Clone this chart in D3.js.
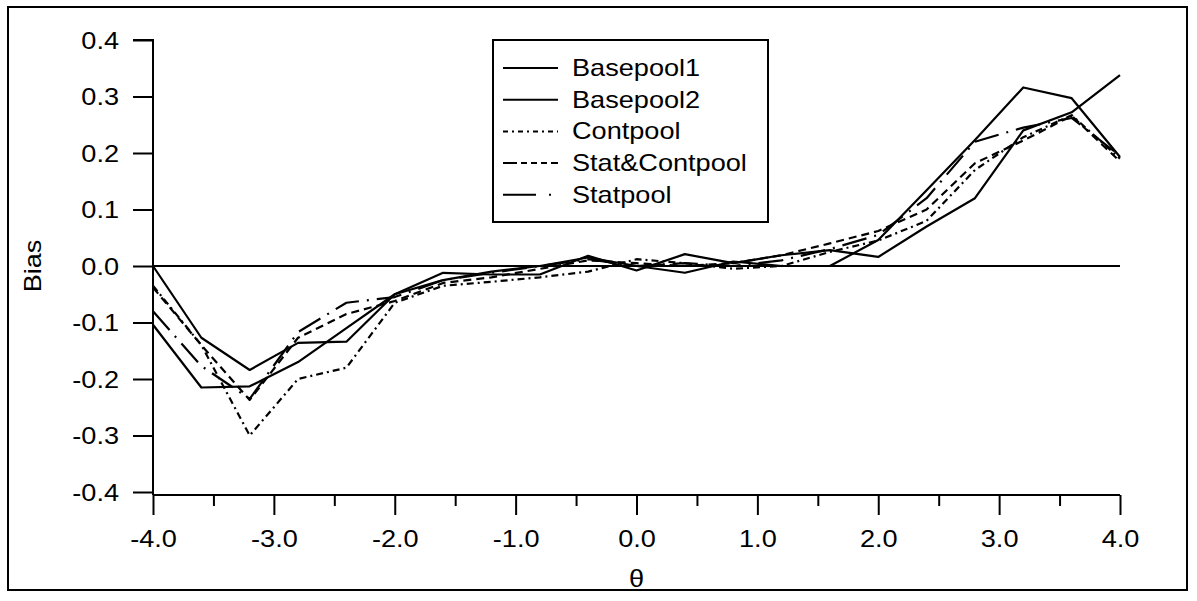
<!DOCTYPE html>
<html>
<head>
<meta charset="utf-8">
<script src="https://cdn.jsdelivr.net/npm/d3@7"></script>
<style>
  html, body { margin: 0; padding: 0; background: #fff; }
  svg { display: block; }
  text { font-family: "Liberation Sans", Arial, sans-serif; fill: #000; }
</style>
</head>
<body>
<svg id="chart" width="1197" height="601"></svg>
<script>
// ---- data ----
const theta = [-4.0, -3.6, -3.2, -2.8, -2.4, -2.0, -1.6, -1.2, -0.8, -0.4, 0.0,
               0.4, 0.8, 1.2, 1.6, 2.0, 2.4, 2.8, 3.2, 3.6, 4.0];
const basepool1 = [0.000, -0.127, -0.184, -0.136, -0.134, -0.050, -0.012, -0.015, -0.015, 0.018, -0.008,
                   0.021, 0.005, 0.019, 0.028, 0.016, 0.070, 0.120, 0.240, 0.272, 0.338];
const basepool2 = [-0.104, -0.215, -0.213, -0.170, -0.110, -0.050, -0.025, -0.010, 0.000, 0.015, 0.000,
                   -0.012, 0.008, 0.000, 0.000, 0.046, 0.134, 0.223, 0.316, 0.297, 0.193];
const contpool = [-0.035, -0.140, -0.300, -0.200, -0.180, -0.065, -0.035, -0.028, -0.020, -0.010, 0.012,
                  0.005, -0.005, 0.000, 0.025, 0.045, 0.080, 0.170, 0.228, 0.267, 0.190];
const statContpool = [-0.038, -0.140, -0.237, -0.127, -0.085, -0.062, -0.030, -0.020, -0.005, 0.010, 0.005,
                      0.000, 0.005, 0.019, 0.040, 0.062, 0.100, 0.182, 0.222, 0.266, 0.185];
const statpool = [-0.080, -0.177, -0.235, -0.117, -0.065, -0.055, -0.025, -0.012, 0.000, 0.012, 0.000,
                  0.005, 0.000, 0.010, 0.030, 0.055, 0.120, 0.220, 0.245, 0.262, 0.195];

const seriesNames = ["Basepool1", "Basepool2", "Contpool", "Stat&Contpool", "Statpool"];
const seriesValues = [basepool1, basepool2, contpool, statContpool, statpool];
const seriesDash = [null, null, "7,4,2,4", "8,5", "25,8,2,8"];
const legendDash = [null, null, "5,4,2,4", "14,4,6,4,6,4,6,4", "33,13,2,20"];

const xTicksMajor = [-4, -3, -2, -1, 0, 1, 2, 3, 4];
const xTicksMinor = [-3.5, -2.5, -1.5, -0.5, 0.5, 1.5, 2.5, 3.5];
const yTicks = [-0.4, -0.3, -0.2, -0.1, 0.0, 0.1, 0.2, 0.3, 0.4];
const xTitle = "θ";
const yTitle = "Bias";

// ---- layout ----
const svg = d3.select("#chart");
const stretch = 1.13;
const fs = 24;

function stretchText(sel) {
  sel.each(function() {
    const len = this.getComputedTextLength();
    d3.select(this).attr("textLength", len * stretch).attr("lengthAdjust", "spacingAndGlyphs");
  });
}

const x = d3.scaleLinear().domain([-4, 4]).range([153, 1120]);
const y = d3.scaleLinear().domain([-0.4, 0.4]).range([492, 40]);
const xAxisY = 495;

// frame
svg.append("rect").attr("x", 8).attr("y", 7).attr("width", 1179).attr("height", 583)
  .attr("fill", "none").attr("stroke", "#000").attr("stroke-width", 2);

// y axis
const gy = svg.append("g").attr("transform", `translate(${x(-4)},0)`)
  .call(d3.axisLeft(y).tickValues(yTicks).tickSize(20).tickPadding(14).tickFormat(d => d.toFixed(1)));
gy.select(".domain").attr("stroke-width", 2).attr("d", `M-20,${y(0.4)}H0V${xAxisY}`);
gy.selectAll(".tick line").attr("stroke-width", 2);
gy.selectAll(".tick text").attr("font-size", fs).attr("dy", "0.35em")
  .style("font-family", '"Liberation Sans", Arial, sans-serif').call(stretchText);

// x axis
const gx = svg.append("g").attr("transform", `translate(0,${xAxisY})`)
  .call(d3.axisBottom(x).tickValues(xTicksMajor).tickSize(20).tickPadding(15).tickFormat(d => d.toFixed(1)));
gx.select(".domain").attr("stroke-width", 2).attr("d", `M${x(-4)},0H${x(4)}`);
gx.selectAll(".tick line").attr("stroke-width", 2);
gx.selectAll(".tick text").attr("font-size", fs)
  .style("font-family", '"Liberation Sans", Arial, sans-serif').call(stretchText);
const gxm = svg.append("g").attr("transform", `translate(0,${xAxisY})`)
  .call(d3.axisBottom(x).tickValues(xTicksMinor).tickSize(11).tickFormat(""));
gxm.select(".domain").remove();
gxm.selectAll(".tick line").attr("stroke-width", 2);

// titles
svg.append("text").attr("x", x(0)).attr("y", 587).attr("text-anchor", "middle")
  .attr("font-size", fs).text(xTitle).call(stretchText);
svg.append("text").attr("transform", `translate(41,${y(0)}) rotate(-90)`).attr("text-anchor", "middle")
  .attr("font-size", fs).text(yTitle).call(stretchText);

// zero line
svg.append("line").attr("x1", x(-4)).attr("x2", x(4)).attr("y1", y(0)).attr("y2", y(0))
  .attr("stroke", "#000").attr("stroke-width", 2);

// series
const line = d3.line().x((d, i) => x(theta[i])).y(d => y(d));
seriesValues.forEach((vals, k) => {
  svg.append("path").datum(vals).attr("d", line)
    .attr("fill", "none").attr("stroke", "#000").attr("stroke-width", 2.2)
    .attr("stroke-linejoin", "round")
    .attr("stroke-dasharray", seriesDash[k]);
});

// legend
const lg = svg.append("g");
lg.append("rect").attr("x", 493).attr("y", 40).attr("width", 275).attr("height", 182)
  .attr("fill", "#fff").attr("stroke", "#000").attr("stroke-width", 2);
seriesNames.forEach((name, k) => {
  const cy = 68 + k * 31.7;
  lg.append("line").attr("x1", 503).attr("x2", 558).attr("y1", cy).attr("y2", cy)
    .attr("stroke", "#000").attr("stroke-width", 2).attr("stroke-dasharray", legendDash[k]);
  lg.append("text").attr("x", 572).attr("y", cy + 8).attr("font-size", fs).text(name).call(stretchText);
});
</script>
</body>
</html>
